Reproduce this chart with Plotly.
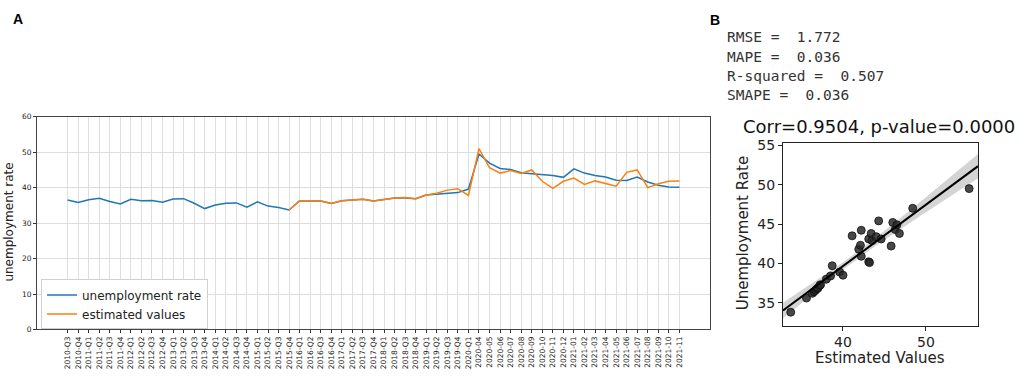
import numpy as np
import plotly.graph_objects as go

W, H = 1021, 384

# ---------------- data ----------------
quarters = [f"{y}-Q{q}" for y in range(2010, 2021) for q in range(1, 5)]
quarters = quarters[quarters.index("2010-Q3"):quarters.index("2020-Q1") + 1]
months = [f"2020-{m:02d}" for m in range(4, 13)] + [f"2021-{m:02d}" for m in range(1, 12)]
periods = quarters + months

unemployment = [36.5, 35.8, 36.6, 37.0, 36.1, 35.4, 36.7, 36.3, 36.4, 35.9,
                36.8, 36.9, 35.6, 34.1, 35.1, 35.6, 35.7, 34.5, 36.0, 34.8,
                34.4, 33.7, 36.3, 36.3, 36.2, 35.5, 36.3, 36.5, 36.7, 36.2,
                36.7, 37.1, 37.1, 36.9, 37.9, 38.2, 38.4, 38.6, 39.6, 49.5,
                46.9, 45.4, 45.1, 44.2, 43.9, 43.7, 43.4, 42.9, 45.3, 44.1,
                43.4, 43.0, 42.1, 42.0, 43.0, 41.6, 40.7, 40.2, 40.1]

est_periods = periods[21:]
estimated = [33.7, 36.3, 36.3, 36.2, 35.5, 36.3, 36.5, 36.7, 36.2, 36.7,
             37.1, 37.2, 36.9, 37.9, 38.4, 39.3, 39.7, 37.8, 51.0, 45.6,
             44.1, 44.8, 44.0, 45.0, 41.8, 39.8, 41.8, 42.7, 40.9, 41.9,
             41.2, 40.4, 44.3, 45.0, 40.0, 41.1, 41.8, 41.9]

sc_est = [33.7, 35.6, 36.3, 36.5, 36.7, 36.9, 37.0, 37.2, 37.3, 38.0,
          38.5, 38.7, 39.6, 40.0, 41.1, 41.9, 42.1, 42.2, 42.2, 43.1,
          43.2, 43.1, 43.4, 43.5, 44.0, 44.3, 44.6, 45.8, 46.0, 46.3,
          46.5, 46.8, 48.4, 55.2]
sc_unemp = [33.8, 35.6, 36.2, 36.4, 36.6, 36.8, 36.9, 37.2, 37.3, 38.0,
            38.4, 39.7, 38.9, 38.5, 43.5, 41.8, 42.3, 44.2, 40.9, 40.2,
            40.1, 43.1, 43.8, 42.9, 43.4, 45.4, 43.1, 42.2, 45.2, 44.3,
            44.9, 43.8, 47.0, 49.5]

metrics = ["RMSE =  1.772", "MAPE =  0.036", "R-squared =  0.507", "SMAPE =  0.036"]
corr_title = "Corr=0.9504, p-value=0.0000"

# ---------------- regression ----------------
xs = np.array(sc_est); ys = np.array(sc_unemp)
b, a = np.polyfit(xs, ys, 1)
xlim_b = [32.77, 56.27]
xg = np.linspace(xlim_b[0], xlim_b[1], 100)
yg = a + b * xg
n = len(xs)
resid = ys - (a + b * xs)
s = np.sqrt(np.sum(resid ** 2) / (n - 2))
sxx = np.sum((xs - xs.mean()) ** 2)
half = 2.04 * s * np.sqrt(1.0 / n + (xg - xs.mean()) ** 2 / sxx)


def px(x):
    return x / W


def py(y):
    return 1 - y / H


fig = go.Figure()
fig.add_trace(go.Scatter(x=periods, y=unemployment, mode="lines", name="unemployment rate",
                         line=dict(color="#1f77b4", width=1.5), xaxis="x", yaxis="y"))
fig.add_trace(go.Scatter(x=est_periods, y=estimated, mode="lines", name="estimated values",
                         line=dict(color="#ff7f0e", width=1.5), xaxis="x", yaxis="y"))

# CI band
fig.add_trace(go.Scatter(x=xg, y=yg + half, mode="lines", line=dict(width=0, color="rgba(0,0,0,0)"),
                         showlegend=False, xaxis="x2", yaxis="y2", hoverinfo="skip"))
fig.add_trace(go.Scatter(x=xg, y=yg - half, mode="lines", line=dict(width=0, color="rgba(0,0,0,0)"),
                         fill="tonexty", fillcolor="rgba(0,0,0,0.17)",
                         showlegend=False, xaxis="x2", yaxis="y2", hoverinfo="skip"))
fig.add_trace(go.Scatter(x=sc_est, y=sc_unemp, mode="markers", showlegend=False,
                         marker=dict(size=8, color="rgba(40,40,40,0.85)",
                                     line=dict(width=0.8, color="#111")),
                         xaxis="x2", yaxis="y2"))
fig.add_trace(go.Scatter(x=xg, y=yg, mode="lines", line=dict(color="black", width=2),
                         showlegend=False, xaxis="x2", yaxis="y2"))

grid = "#dedede"
fig.update_layout(
    width=W, height=H, autosize=False,
    margin=dict(l=0, r=0, t=0, b=0),
    paper_bgcolor="white", plot_bgcolor="white",
    font=dict(family="DejaVu Sans", color="#222"),
    xaxis=dict(domain=[px(37), px(710)], anchor="y", type="category",
               categoryorder="array", categoryarray=periods,
               range=[-2.9, 60.9], showgrid=True, gridcolor=grid, gridwidth=1,
               ticks="outside", ticklen=3, tickcolor="#333", tickangle=-90,
               tickfont=dict(size=7.5, color="#222"),
               showline=True, linecolor="#444", linewidth=1, mirror=True, zeroline=False),
    yaxis=dict(domain=[py(333), py(114)], anchor="x", range=[0, 60], dtick=10,
               showgrid=True, gridcolor=grid, gridwidth=1,
               ticks="outside", ticklen=3, tickcolor="#333",
               tickfont=dict(size=7.5, color="#222"),
               showline=True, linecolor="#444", linewidth=1, mirror=True, zeroline=False),
    xaxis2=dict(domain=[px(783), px(978)], anchor="y2", range=xlim_b,
                tickvals=[40, 50], showgrid=False, zeroline=False,
                ticks="outside", ticklen=4, tickcolor="#222",
                tickfont=dict(size=14, color="#222"),
                showline=True, linecolor="#222", linewidth=1, mirror=True),
    yaxis2=dict(domain=[py(329), py(141)], anchor="x2", range=[32.1, 55.3],
                tickvals=[35, 40, 45, 50, 55], showgrid=False, zeroline=False,
                ticks="outside", ticklen=4, tickcolor="#222",
                tickfont=dict(size=14, color="#222"),
                showline=True, linecolor="#222", linewidth=1, mirror=True),
    legend=dict(x=px(41), y=py(333), xanchor="left", yanchor="bottom",
                traceorder="normal", itemwidth=30,
                bgcolor="white", bordercolor="#d0d0d0", borderwidth=1,
                font=dict(size=12, color="#222"), tracegroupgap=0),
)

ann = []
ann.append(dict(text="<b>A</b>", x=px(11), y=py(13), xref="paper", yref="paper",
                showarrow=False, xanchor="left", yanchor="middle", font=dict(size=14, family="Liberation Sans", color="black")))
ann.append(dict(text="<b>B</b>", x=px(708), y=py(14), xref="paper", yref="paper",
                showarrow=False, xanchor="left", yanchor="middle", font=dict(size=14, family="Liberation Sans", color="black")))
ann.append(dict(text="unemployment rate", x=px(9), y=py(223), xref="paper", yref="paper",
                showarrow=False, textangle=-90, xanchor="center", yanchor="middle",
                font=dict(size=12, color="#222")))
for i, m in enumerate(metrics):
    ann.append(dict(text=m, x=px(725), y=py(32 + 20 * i), xref="paper", yref="paper",
                    showarrow=False, xanchor="left", yanchor="middle",
                    font=dict(size=14.5, family="DejaVu Sans Mono", color="#333")))
ann.append(dict(text=corr_title, x=px(879), y=py(124), xref="paper", yref="paper",
                showarrow=False, xanchor="center", yanchor="middle",
                font=dict(size=18, color="#111")))
ann.append(dict(text="Unemployment Rate", x=px(743), y=py(234), xref="paper", yref="paper",
                showarrow=False, textangle=-90, xanchor="center", yanchor="middle",
                font=dict(size=15, color="#222")))
ann.append(dict(text="Estimated Values", x=px(880), y=py(362), xref="paper", yref="paper",
                showarrow=False, xanchor="center", yanchor="middle",
                font=dict(size=15, color="#222")))
fig.update_layout(annotations=ann)

fig.write_html("out.html", config={"displayModeBar": False},
               post_script="document.body.style.margin='0';")
